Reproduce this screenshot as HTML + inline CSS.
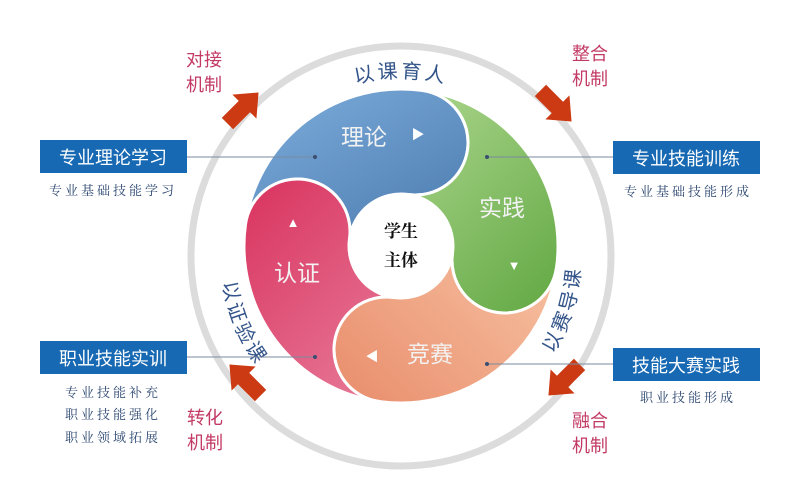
<!DOCTYPE html>
<html><head><meta charset="utf-8"><style>
html,body{margin:0;padding:0;background:#fff;}
svg{display:block;font-family:"Liberation Sans","Noto Sans CJK SC",sans-serif;}
</style></head><body>
<svg width="805" height="488" viewBox="0 0 805 488" xmlns="http://www.w3.org/2000/svg">
<defs>
<linearGradient id="gb" x1="0" y1="0" x2="1" y2="1"><stop offset="0" stop-color="#7fb0de"/><stop offset="1" stop-color="#4a78ad"/></linearGradient>
<linearGradient id="gg" x1="0" y1="0" x2="1" y2="1"><stop offset="0" stop-color="#a9d48a"/><stop offset="1" stop-color="#62a843"/></linearGradient>
<linearGradient id="go" x1="1" y1="0" x2="0" y2="1"><stop offset="0" stop-color="#f6c0a0"/><stop offset="1" stop-color="#e98d6c"/></linearGradient>
<linearGradient id="gr" x1="0" y1="0" x2="1" y2="1"><stop offset="0" stop-color="#d9335f"/><stop offset="1" stop-color="#e77a98"/></linearGradient>
<path id="ptop" d="M273.7,130.7 A180,180 0 0 1 528.3,130.7"/>
<path id="pright" d="M511.8,399.8 A180,180 0 0 0 573.1,205.4"/>
<path id="pleft" d="M237.9,181.9 A180,180 0 0 0 339.4,427.1"/>
</defs>
<circle cx="401" cy="256" r="210" fill="none" stroke="#dcdcdc" stroke-width="7"/>
<g stroke="#fff" stroke-width="3" transform="rotate(8 401 246)">
<path fill="url(#gb)" d="M244,246 A157,157 0 0 1 401,89 A52.5,52.5 0 0 1 401,194 A52,52 0 0 0 349,246 A52.5,52.5 0 0 0 244,246Z"/>
<path fill="url(#gg)" d="M401,89 A157,157 0 0 1 558,246 A52.5,52.5 0 0 1 453,246 A52,52 0 0 0 401,194 A52.5,52.5 0 0 0 401,89Z"/>
<path fill="url(#go)" d="M558,246 A157,157 0 0 1 401,403 A52.5,52.5 0 0 1 401,298 A52,52 0 0 0 453,246 A52.5,52.5 0 0 0 558,246Z"/>
<path fill="url(#gr)" d="M401,403 A157,157 0 0 1 244,246 A52.5,52.5 0 0 1 349,246 A52,52 0 0 0 401,298 A52.5,52.5 0 0 0 401,403Z"/>
</g>
<circle cx="401" cy="246" r="51" fill="#fff"/>
<g fill="#f2f2f2" font-size="23" text-anchor="middle">
<text x="364" y="145">理论</text>
<text x="502" y="216">实践</text>
<text x="430" y="362">竞赛</text>
<text x="297" y="281">认证</text>
</g>
<g fill="#fff" font-size="13" text-anchor="middle">
<text x="418" y="139">▶</text>
<text x="514" y="270">▼</text>
<text x="372" y="361">◀</text>
<text x="293" y="227">▲</text>
</g>
<g fill="#111" font-size="17" font-weight="bold" text-anchor="middle" font-family="'Noto Serif CJK SC',serif">
<text x="401" y="237">学生</text>
<text x="401" y="266">主体</text>
</g>
<g fill="#34558a" font-size="20" letter-spacing="3">
<text><textPath href="#ptop" startOffset="50%" text-anchor="middle">以课育人</textPath></text>
<text><textPath href="#pright" startOffset="50%" text-anchor="middle">以赛导课</textPath></text>
<text><textPath href="#pleft" startOffset="50%" text-anchor="middle">以证验课</textPath></text>
</g>
<g fill="#cc3a14">
<polygon transform="translate(243,108) rotate(-45)" points="-22,-8 2,-8 2,-17 22,0 2,17 2,8 -22,8"/>
<polygon transform="translate(556,106) rotate(45)" points="-22,-8 2,-8 2,-17 22,0 2,17 2,8 -22,8"/>
<polygon transform="translate(245,380) rotate(-135)" points="-22,-8 2,-8 2,-17 22,0 2,17 2,8 -22,8"/>
<polygon transform="translate(564,380) rotate(135)" points="-22,-8 2,-8 2,-17 22,0 2,17 2,8 -22,8"/>
</g>
<g fill="#c23a64" font-size="18">
<text x="186" y="66">对接</text><text x="186" y="91">机制</text>
<text x="572" y="60">整合</text><text x="572" y="85">机制</text>
<text x="187" y="424">转化</text><text x="187" y="449">机制</text>
<text x="572" y="427">融合</text><text x="572" y="452">机制</text>
</g>
<g stroke="#7a8aa0" stroke-width="1">
<line x1="187" y1="157" x2="315" y2="157"/>
<line x1="487" y1="157" x2="613" y2="157"/>
<line x1="187" y1="357" x2="315" y2="357"/>
<line x1="487" y1="364" x2="613" y2="364"/>
</g>
<g fill="#3a4f70"><circle cx="315" cy="157" r="2"/><circle cx="487" cy="157" r="2"/><circle cx="315" cy="357" r="2"/><circle cx="487" cy="364" r="2"/></g>
<g fill="#1769b3">
<rect x="40" y="140" width="147" height="33"/>
<rect x="613" y="141" width="147" height="33"/>
<rect x="40" y="341" width="147" height="33"/>
<rect x="613" y="348" width="147" height="33"/>
</g>
<g fill="#fff" font-size="18" text-anchor="middle">
<text x="113" y="164">专业理论学习</text>
<text x="686" y="165">专业技能训练</text>
<text x="113" y="365">职业技能实训</text>
<text x="686" y="372">技能大赛实践</text>
</g>
<g fill="#2b4670" font-size="13" text-anchor="middle" letter-spacing="3" font-family="'Noto Serif CJK SC',serif">
<text x="113" y="195">专业基础技能学习</text>
<text x="688" y="196">专业基础技能形成</text>
<text x="113" y="397">专业技能补充</text>
<text x="113" y="419">职业技能强化</text>
<text x="113" y="442">职业领域拓展</text>
<text x="688" y="402">职业技能形成</text>
</g>
</svg>
</body></html>
